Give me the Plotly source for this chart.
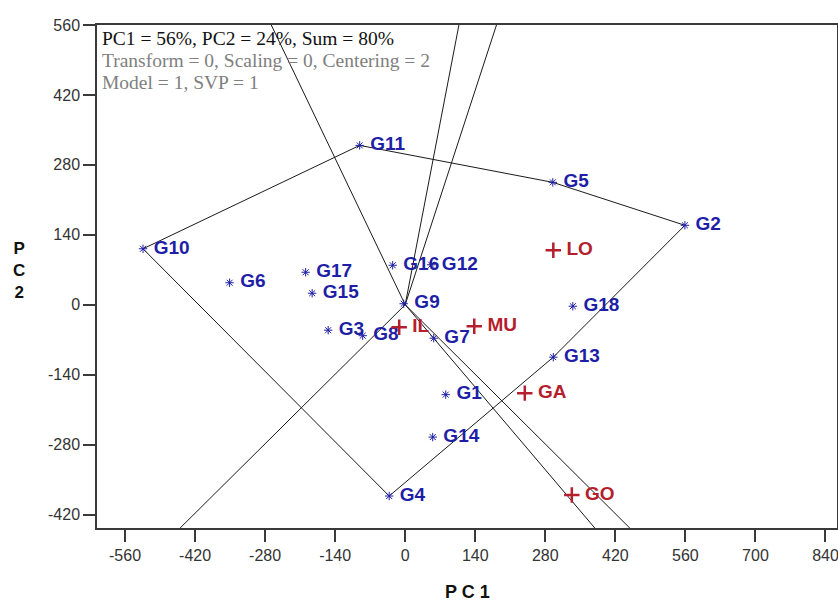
import numpy as np
import plotly.graph_objects as go

# ---------------- data ----------------
gen_names = ["G1", "G2", "G3", "G4", "G5", "G6", "G7", "G8", "G9",
             "G10", "G11", "G12", "G13", "G14", "G15", "G16", "G17", "G18"]
gen_pc1 = [81, 559, -154, -32, 295, -351, 57, -85, -3,
           -524, -91, 52, 296, 55, -186, -25, -199, 335]
gen_pc2 = [-180, 159, -51, -383, 245, 44, -67, -62, 2,
           112, 319, 80, -105, -265, 23, 79, 65, -3]

env_names = ["LO", "IL", "MU", "GA", "GO"]
env_pc1 = [296, -12, 138, 239, 333]
env_pc2 = [109, -45, -43, -177, -381]

x_tick_vals = [-560, -420, -280, -140, 0, 140, 280, 420, 560, 700, 840]
x_tick_text = ["-560", "-420", "-280", "-140", "0", "140", "280", "420", "560", "700", "840"]
y_tick_vals = [-420, -280, -140, 0, 140, 280, 420, 560]
y_tick_text = ["-420", "-280", "-140", "0", "140", "280", "420", "560"]

info_lines = ["PC1 = 56%, PC2 = 24%, Sum = 80%",
              "Transform = 0, Scaling = 0, Centering = 2",
              "Model = 1, SVP = 1"]

# ---------------- geometry derived from data ----------------
pts = sorted(zip(gen_pc1, gen_pc2))


def cross(o, a, b):
    return (a[0] - o[0]) * (b[1] - o[1]) - (a[1] - o[1]) * (b[0] - o[0])


lower, upper = [], []
for p in pts:
    while len(lower) >= 2 and cross(lower[-2], lower[-1], p) <= 0:
        lower.pop()
    lower.append(p)
for p in reversed(pts):
    while len(upper) >= 2 and cross(upper[-2], upper[-1], p) <= 0:
        upper.pop()
    upper.append(p)
hull = lower[:-1] + upper[:-1]
hull_closed = hull + [hull[0]]

ray_x, ray_y = [], []
for a, b in zip(hull_closed[:-1], hull_closed[1:]):
    a = np.array(a, float)
    b = np.array(b, float)
    d = b - a
    t = -np.dot(a, d) / np.dot(d, d)
    foot = a + t * d
    u = foot / np.linalg.norm(foot)
    end = u * 3000
    ray_x += [0, end[0], None]
    ray_y += [0, end[1], None]

BLUE = "#1e1ea6"
RED = "#b41e2d"
AX = "#3a3a3a"

fig = go.Figure()
fig.add_trace(go.Scatter(x=[p[0] for p in hull_closed], y=[p[1] for p in hull_closed],
                         mode="lines", line=dict(color="#1a1a1a", width=1),
                         hoverinfo="skip", showlegend=False))
fig.add_trace(go.Scatter(x=ray_x, y=ray_y, mode="lines",
                         line=dict(color="#1a1a1a", width=1),
                         hoverinfo="skip", showlegend=False))
fig.add_trace(go.Scatter(x=gen_pc1, y=gen_pc2, mode="markers+text",
                         text=[" " + n for n in gen_names], textposition="middle right",
                         textfont=dict(family="Liberation Sans, Arial", size=19, color=BLUE,
                                       weight="bold"),
                         marker=dict(symbol="asterisk-open", size=7, color=BLUE,
                                     line=dict(color=BLUE, width=1)),
                         cliponaxis=False, showlegend=False))
fig.add_trace(go.Scatter(x=env_pc1, y=env_pc2, mode="markers+text",
                         text=[" " + n for n in env_names], textposition="middle right",
                         textfont=dict(family="Liberation Sans, Arial", size=19, color=RED,
                                       weight="bold"),
                         marker=dict(symbol="cross-thin-open", size=11, color=RED,
                                     line=dict(color=RED, width=2.5)),
                         cliponaxis=False, showlegend=False))

tickfont = dict(family="Liberation Sans, Arial", size=16, color="#333333")
fig.update_xaxes(range=[-616, 863], tickmode="array", tickvals=x_tick_vals, ticktext=x_tick_text,
                 ticks="outside", ticklen=12, tickwidth=1.5, tickcolor=AX,
                 showline=True, linecolor=AX, linewidth=1.5, mirror=True, automargin=False,
                 ticklabeloverflow="allow",
                 showgrid=False, zeroline=False, tickfont=tickfont)
fig.update_yaxes(range=[-447, 560], tickmode="array", tickvals=y_tick_vals, ticktext=y_tick_text,
                 ticks="outside", ticklen=12, tickwidth=1.5, tickcolor=AX,
                 showline=True, linecolor=AX, linewidth=1.5, mirror=True, automargin=False,
                 ticklabeloverflow="allow",
                 showgrid=False, zeroline=False, tickfont=tickfont)

annos = []
info_colors = ["#111111", "#808080", "#808080"]
info_y = [532, 488, 445]
for txt, col, yy in zip(info_lines, info_colors, info_y):
    annos.append(dict(x=-611, y=yy, xref="x", yref="y", text=txt, showarrow=False,
                      xanchor="left", yanchor="middle",
                      font=dict(family="Liberation Serif, Times New Roman", size=19.5, color=col)))
annos.append(dict(x=0.5, y=-0.127, xref="paper", yref="paper", text="P C 1", showarrow=False,
                  xanchor="center", yanchor="middle",
                  font=dict(family="Liberation Sans, Arial", size=18, color="#111111", weight="bold")))
annos.append(dict(x=-0.105, y=0.511, xref="paper", yref="paper", text="P<br>C<br>2",
                  showarrow=False, xanchor="center", yanchor="middle",
                  font=dict(family="Liberation Sans, Arial", size=17, color="#111111", weight="bold")))

fig.update_layout(width=838, height=603, margin=dict(l=97, r=1, t=25, b=75),
                  plot_bgcolor="white", paper_bgcolor="white", annotations=annos,
                  showlegend=False)

fig.write_html("out.html", config={"displayModeBar": False},
               post_script="document.body.style.margin='0';document.body.style.overflow='hidden';")
